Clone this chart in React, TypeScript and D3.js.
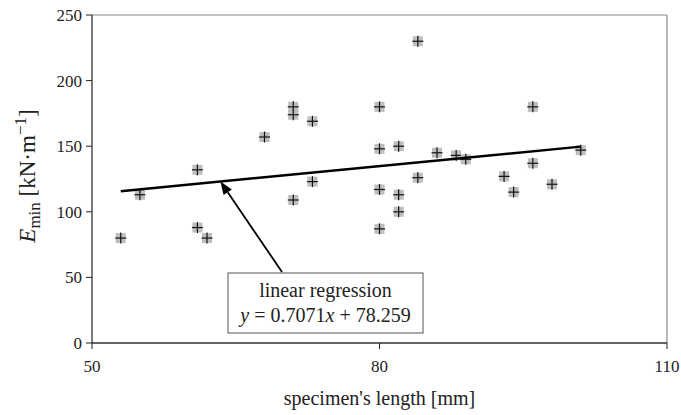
import React from "react";
import * as d3 from "d3";

const lengths = [53, 55, 61, 61, 62, 68, 71, 71, 71, 73, 73, 80, 80, 80, 80, 82, 82, 82, 84, 84, 86, 88, 89, 93, 94, 96, 96, 98, 101];
const emin = [80, 113, 132, 88, 80, 157, 180, 174, 109, 169, 123, 180, 148, 117, 87, 150, 113, 100, 230, 126, 145, 143, 140, 127, 115, 180, 137, 121, 147];
const xTicks = [50, 80, 110];
const yTicks = [0, 50, 100, 150, 200, 250];
const slope = 0.7071;
const intercept = 78.259;
const regRange = [53, 101];
const arrowAtX = 63.4;

const W = 681, H = 415;
const left = 92, right = 667, top = 15, bottom = 343;
const FONT = "Liberation Serif, Times New Roman, Times, serif";
const ts = { fontFamily: FONT };

export default function App() {
  const x = d3.scaleLinear().domain([50, 110]).range([left, right]);
  const y = d3.scaleLinear().domain([0, 250]).range([bottom, top]);
  const reg = d3.line<number>().x(v => x(v)).y(v => y(slope * v + intercept));
  const tipX = x(arrowAtX), tipY = y(slope * arrowAtX + intercept);
  const tailX = 282, tailY = 272;
  const ang = Math.atan2(tipY - tailY, tipX - tailX);
  const ah = 13, aw = 5;
  const bx = tipX - ah * Math.cos(ang), by = tipY - ah * Math.sin(ang);
  const px = -Math.sin(ang) * aw, py = Math.cos(ang) * aw;
  const head = `M${tipX},${tipY}L${bx + px},${by + py}L${bx - px},${by - py}Z`;
  return (
    <svg width={W} height={H} style={{ position: "absolute", left: 0, top: 0, background: "#fff", fontFamily: FONT }}>
      <line x1={left} x2={right} y1={top} y2={top} stroke="#888" strokeWidth={1.2} />
      <line x1={right} x2={right} y1={top} y2={bottom} stroke="#888" strokeWidth={1.2} />
      <line x1={left} x2={right} y1={bottom} y2={bottom} stroke="#333" strokeWidth={1.4} />
      <line x1={left} x2={left} y1={top} y2={bottom} stroke="#222" strokeWidth={1.2} />
      {yTicks.map(t => (
        <g key={"y" + t}>
          <line x1={left - 6} x2={left} y1={y(t)} y2={y(t)} stroke="#222" strokeWidth={1} />
          <text style={ts} x={left - 10} y={y(t)} dy="0.35em" textAnchor="end" fontSize={17} fill="#222">{t}</text>
        </g>
      ))}
      {xTicks.map(t => (
        <g key={"x" + t}>
          <line x1={x(t)} x2={x(t)} y1={bottom} y2={bottom + 6} stroke="#222" strokeWidth={1} />
          <text style={ts} x={x(t)} y={bottom + 29} textAnchor="middle" fontSize={17} fill="#222">{t}</text>
        </g>
      ))}
      <text style={ts} x={(left + right) / 2} y={405} textAnchor="middle" fontSize={20} fill="#222">specimen's length [mm]</text>
      <text style={ts} transform={`translate(35,176) rotate(-90)`} textAnchor="middle" fontSize={23} fill="#222">
        <tspan fontStyle="italic">E</tspan>
        <tspan fontSize={17} dy={5}>min</tspan>
        <tspan dy={-5}> [kN·m</tspan>
        <tspan fontSize={17} dy={-9}>−1</tspan>
        <tspan dy={9}>]</tspan>
      </text>
      {lengths.map((v, i) => (
        <g key={"p" + i} transform={`translate(${x(v)},${y(emin[i])})`}>
          <rect x={-5} y={-5} width={10} height={10} fill="#bdbdbd" />
          <line x1={-5.5} x2={5.5} y1={0} y2={0} stroke="#111" strokeWidth={1.2} />
          <line x1={0} x2={0} y1={-5.5} y2={5.5} stroke="#111" strokeWidth={1.2} />
        </g>
      ))}
      <path d={reg(regRange) || ""} stroke="#000" strokeWidth={2.5} fill="none" />
      <line x1={tailX} y1={tailY} x2={bx} y2={by} stroke="#000" strokeWidth={1.8} />
      <path d={head} fill="#000" />
      <rect x={228} y={273} width={195} height={60} fill="#fff" stroke="#555" strokeWidth={1} />
      <text style={ts} x={325.5} y={297} textAnchor="middle" fontSize={20} fill="#222">linear regression</text>
      <text style={ts} x={325.5} y={322} textAnchor="middle" fontSize={20} fill="#222">
        <tspan fontStyle="italic">y</tspan> = 0.7071<tspan fontStyle="italic">x</tspan> + 78.259
      </text>
    </svg>
  );
}
